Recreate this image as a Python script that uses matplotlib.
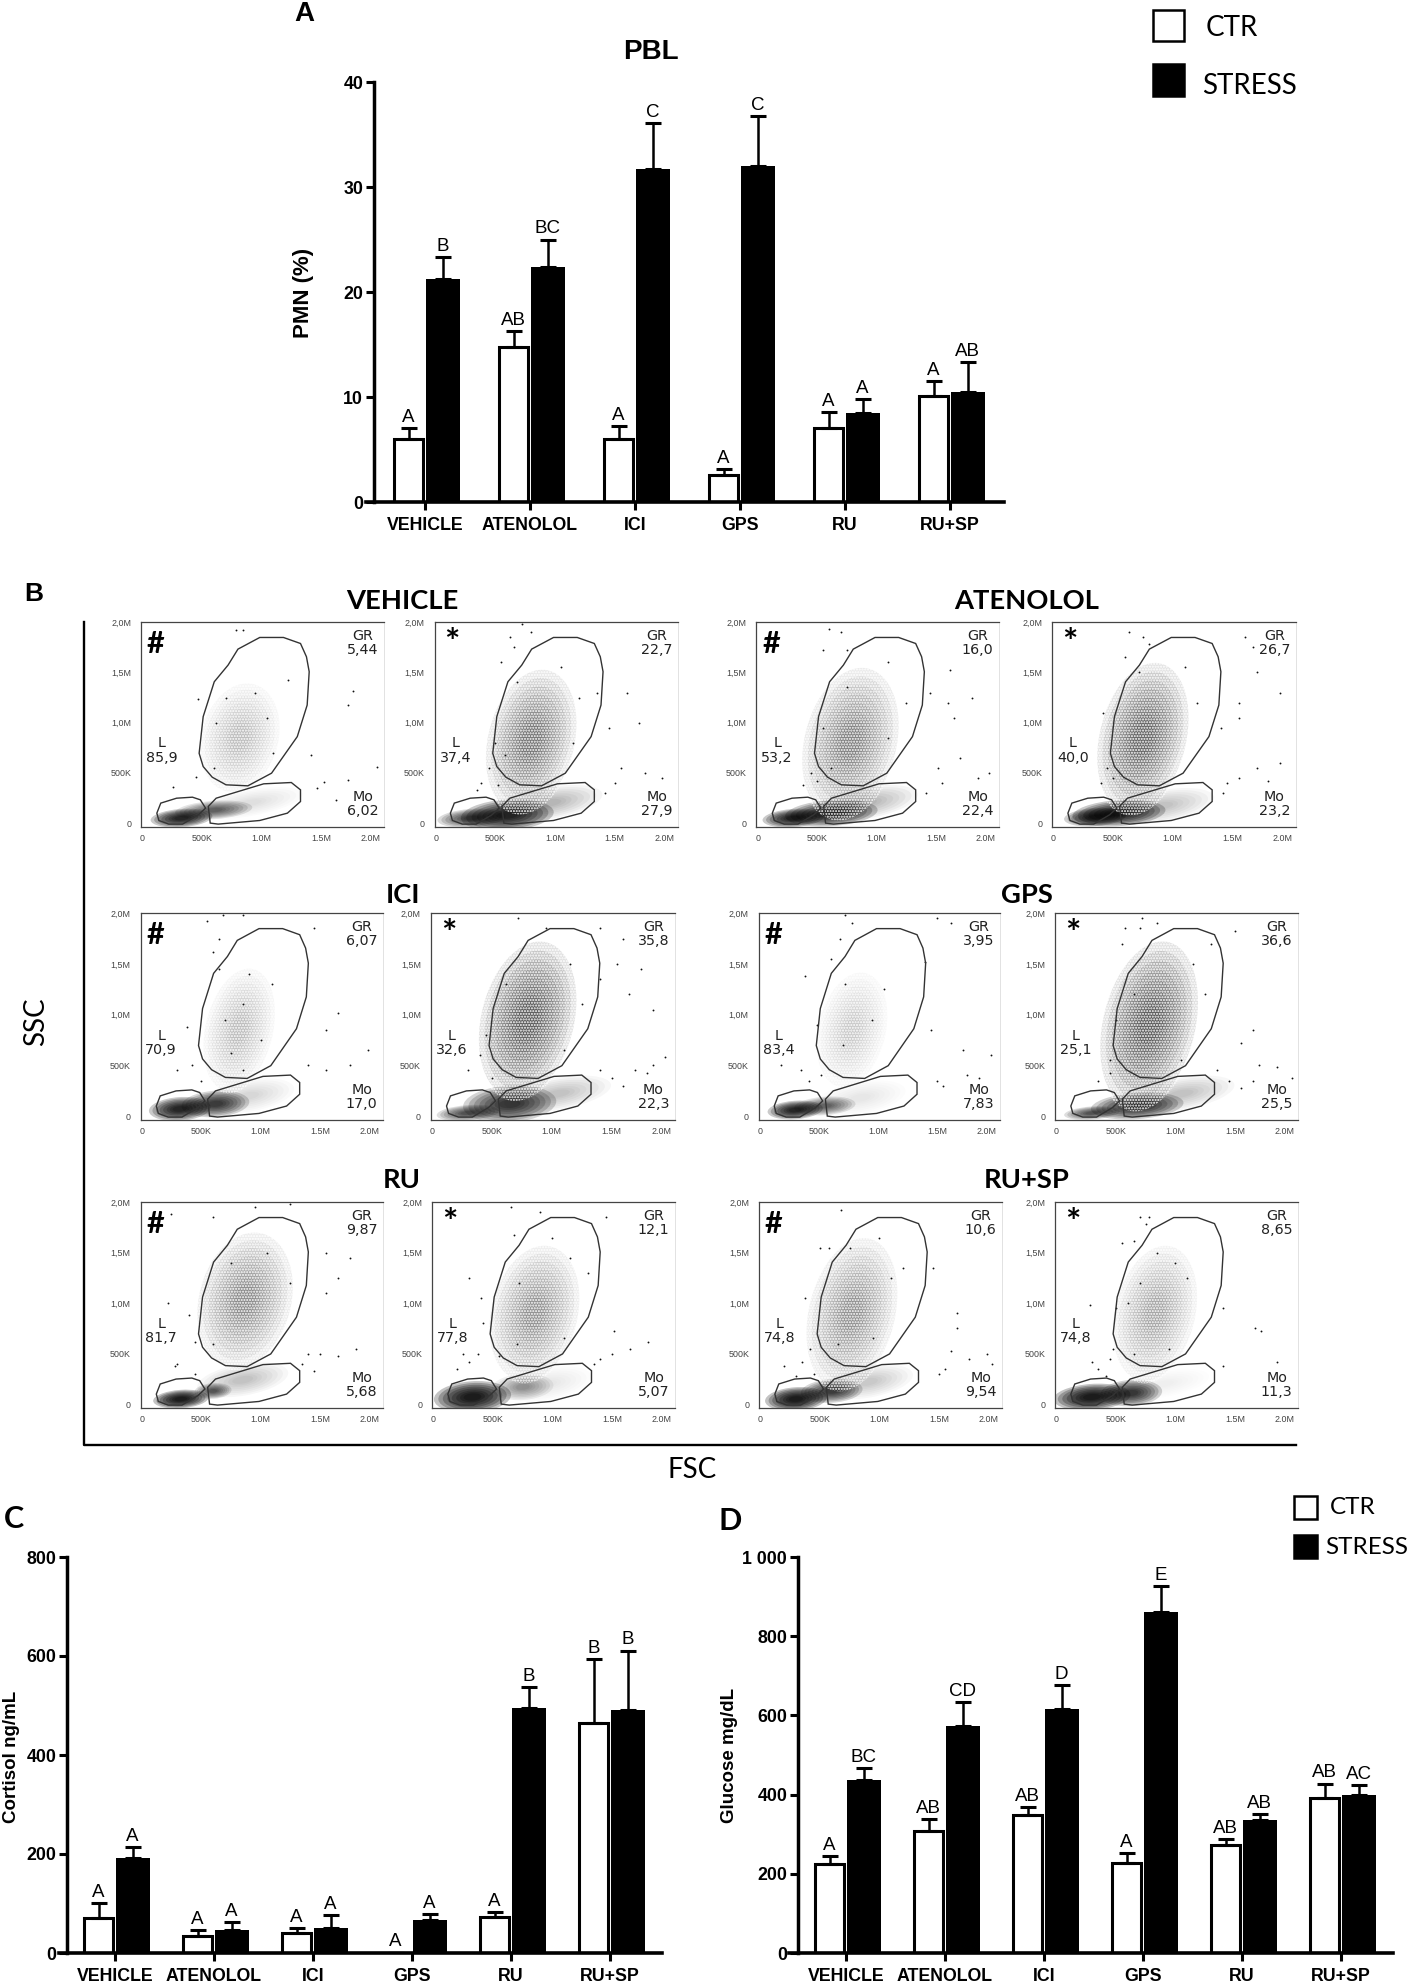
import matplotlib
matplotlib.use("Agg")
import matplotlib.pyplot as plt
from matplotlib.patches import Rectangle, Ellipse, Polygon
from matplotlib.lines import Line2D
from matplotlib.transforms import Affine2D

W, H = 1408, 1986
fig = plt.figure(figsize=(W / 100, H / 100), dpi=100, facecolor="white")
PX = Affine2D().scale(1 / W, -1 / H).translate(0, 1) + fig.transFigure
ARIAL = "Liberation Sans"
CAL = "Lato"

GROUPS = ["VEHICLE", "ATENOLOL", "ICI", "GPS", "RU", "RU+SP"]

# Panel A: PMN (%)
A_CTR = [6.0, 14.8, 5.96, 2.6, 7.05, 10.05]
A_CTR_TOP = [7.05, 16.3, 7.2, 3.1, 8.6, 11.5]
A_STR = [21.2, 22.4, 31.7, 32.0, 8.5, 10.5]
A_STR_TOP = [23.3, 25.0, 36.05, 36.8, 9.8, 13.3]
A_CTR_LET = ["A", "AB", "A", "A", "A", "A"]
A_STR_LET = ["B", "BC", "C", "C", "A", "AB"]

# Panel C: cortisol
C_CTR = [71.5, 34, 40, 1, 73.5, 465]
C_CTR_TOP = [101, 46, 50, 1, 82, 593]
C_STR = [191, 47, 51, 67, 494, 491]
C_STR_TOP = [214.5, 62, 77, 79.6, 537.6, 611]
C_CTR_LET = ["A", "A", "A", "A", "A", "B"]
C_STR_LET = ["A", "A", "A", "A", "B", "B"]

# Panel D: glucose
D_CTR = [226, 307, 348, 227, 273, 391]
D_CTR_TOP = [244.5, 338, 368.5, 253, 287.5, 428]
D_STR = [438, 573, 616, 860, 335.6, 399]
D_STR_TOP = [466, 634, 676, 927, 351, 423]
D_CTR_LET = ["A", "AB", "AB", "A", "AB", "AB"]
D_STR_LET = ["BC", "CD", "D", "E", "AB", "AC"]

# Panel B: gate percentages, row by row
GR_VALS = ["5,44", "22,7", "16,0", "26,7", "6,07", "35,8", "3,95", "36,6", "9,87", "12,1", "10,6", "8,65"]
L_VALS = ["85,9", "37,4", "53,2", "40,0", "70,9", "32,6", "83,4", "25,1", "81,7", "77,8", "74,8", "74,8"]
MO_VALS = ["6,02", "27,9", "22,4", "23,2", "17,0", "22,3", "7,83", "25,5", "5,68", "5,07", "9,54", "11,3"]

# Gates, FSC / SSC in millions
GR_GATE = [(.804, 1.732), (.987, 1.848), (1.186, 1.848), (1.329, 1.788), (1.379, 1.656), (1.402, 1.507),
           (1.385, 1.175), (1.302, .861), (1.086, .497), (.887, .371), (.704, .381), (.588, .457),
           (.512, .563), (.478, .695), (.512, 1.06), (.605, 1.407), (.721, 1.573)]
MO_GATE = [(.571, 0), (.555, .166), (.621, .248), (1.02, .391), (1.252, .404), (1.329, .331),
           (1.329, .215), (1.219, .099), (.987, .026), (.638, -.01)]
L_GATE = [(.123, .099), (.156, .199), (.289, .248), (.422, .258), (.488, .232), (.532, .149),
          (.472, .083), (.339, -.01), (.223, -.01), (.14, .026)]

# Density of each cloud, estimated by eye: centre x, centre y, half width, half height, darkness
GR_CLOUD = [(.82, .85, .25, .42, .28), (.80, .82, .28, .55, .7), (.78, .80, .30, .58, .6), (.75, .85, .28, .58, .8),
            (.82, .85, .22, .47, .28), (.80, .95, .30, .60, .9), (.78, .85, .22, .44, .22), (.78, .90, .30, .64, .9),
            (.87, 1.03, .30, .52, .55), (.85, .90, .28, .52, .5), (.77, .90, .28, .58, .5), (.83, .90, .26, .52, .38)]
L_CLOUD = [(.33, .05, .20, .07, 1.6), (.30, .05, .22, .07, 1.1), (.30, .05, .20, .07, 1.6), (.35, .06, .20, .07, 1.4),
           (.32, .07, .20, .09, 1.6), (.30, .03, .20, .06, 1.0), (.30, .06, .18, .07, 1.6), (.30, .03, .18, .05, 1.0),
           (.33, .05, .18, .07, 1.8), (.33, .07, .25, .12, 1.8), (.30, .05, .20, .09, 1.8), (.30, .07, .25, .10, 1.8)]
MO_CORE = [(.60, .13, .25, .07, .8), (.60, .08, .30, .12, 1.6), (.62, .10, .30, .10, 1.5), (.55, .10, .30, .10, 1.6),
           (.62, .12, .22, .10, 1.2), (.65, .12, .30, .14, 1.3), (.55, .10, .20, .07, .8), (.68, .10, .30, .10, 1.4),
           (.60, .13, .12, .06, .9), (.75, .17, .20, .10, .45), (.60, .13, .20, .09, 1.2), (.63, .11, .20, .10, 1.3)]
MO_WIDE = [(.90, .20, .35, .10, .12), (.95, .20, .35, .12, .3), (.90, .20, .35, .12, .3), (.90, .17, .35, .12, .25),
           (.90, .20, .30, .12, .15), (1.05, .22, .35, .12, .25), (.85, .18, .30, .12, .1), (1.05, .22, .35, .12, .25),
           (.85, .24, .30, .12, .25), (.95, .20, .30, .12, .1), (.90, .22, .30, .12, .2), (.90, .20, .30, .10, .07)]

# Stray events (FSC, SSC in millions)
S1 = [(.79, 1.92), (.85, 1.92), (1.73, 1.18), (1.77, 1.32), (1.22, 1.42), (1.42, .68), (1.53, .41), (1.47, .35), (1.73, .43),
      (1.97, .56), (1.63, .23), (.26, .36), (.47, 1.24), (.45, .46), (.70, 1.25), (.95, 1.30), (1.05, 1.05), (.60, .55), (1.1, .7), (.62, 1.0)]
S2 = [(.72, 1.98), (.8, 1.9), (.66, 1.75), (.55, 1.6), (.62, 1.85), (.5, .8), (.45, .55), (.38, .4), (.52, .38), (1.45, .95), (1.6, 1.3),
      (1.7, 1.0), (1.75, .5), (1.5, .4), (1.42, .3), (1.9, .45), (1.55, .55), (1.05, 1.55), (1.2, 1.25), (.68, 1.4), (1.15, .8), (.58, .68), (1.35, 1.3), (.35, .33)]
S3 = [(.6, 1.93), (.7, 1.9), (.55, 1.72), (.75, 1.72), (1.62, 1.52), (1.45, 1.3), (1.6, 1.2), (1.8, 1.25), (1.65, 1.05), (1.52, .55), (1.7, .65),
      (1.55, .4), (1.42, .3), (1.85, .45), (1.95, .5), (.45, .5), (.38, .38), (.5, .42), (1.1, 1.6), (.75, 1.35), (1.25, 1.2), (1.1, .85), (.62, .55), (.55, .95)]
S4 = [(.63, 1.9), (.75, 1.85), (.8, 1.78), (.6, 1.65), (1.6, 1.85), (1.67, 1.75), (1.7, 1.5), (1.55, 1.2), (1.55, 1.05), (1.4, .95), (1.9, 1.3),
      (1.45, .4), (1.55, .45), (1.7, .55), (1.9, .6), (1.8, .42), (1.42, .3), (.45, .55), (.4, .4), (.42, 1.1), (1.1, 1.55), (1.2, 1.2), (.72, 1.5), (.5, .45)]
S5 = [(.55, 1.92), (.68, 1.98), (.85, 1.98), (.65, 1.75), (.6, 1.62), (1.45, 1.85), (1.65, 1.02), (1.55, .85), (.38, .88), (.3, .45), (.42, .5),
      (.5, .35), (1.4, .5), (1.55, .45), (1.75, .5), (1.9, .65), (.85, 1.1), (.7, .95), (.9, 1.4), (1.1, 1.3), (.75, .62), (1.0, .75), (.85, .45), (.65, 1.45)]
S6 = [(.72, 1.95), (.95, 1.85), (1.4, 1.85), (1.6, 1.75), (1.55, 1.5), (1.4, 1.35), (1.65, 1.2), (1.85, 1.05), (1.75, 1.45), (.45, .8), (.4, .6),
      (.3, .45), (.5, .38), (1.4, .45), (1.5, .38), (1.6, .3), (1.7, .45), (1.85, .5), (1.95, .58), (1.8, .42), (1.15, 1.5), (1.25, 1.1), (.62, 1.3), (1.1, .65)]
S7 = [(.72, 1.98), (.78, 1.9), (.68, 1.75), (.6, 1.55), (1.5, 1.95), (1.62, 1.9), (1.4, 1.52), (.38, 1.38), (.48, .9), (1.45, .85), (1.72, .65), (1.95, .6),
      (1.5, .35), (1.55, .3), (1.75, .4), (1.85, .38), (.18, .5), (.35, .45), (.42, .35), (.52, .4), (.72, 1.3), (.95, .95), (.7, .7), (1.05, 1.25)]
S8 = [(.72, 1.95), (.85, 1.9), (.7, 1.85), (.55, 1.7), (.58, 1.85), (1.3, 1.7), (1.5, 1.82), (.5, .95), (.45, .55), (.35, .35), (.45, .42),
      (1.35, .45), (1.45, .35), (1.55, .28), (1.65, .35), (1.7, .5), (1.85, .48), (1.98, .38), (1.55, .72), (1.65, .85), (1.15, 1.5), (1.25, 1.2), (.65, 1.2), (1.05, .55)]
S9 = [(.95, 1.95), (1.25, 1.98), (.6, 1.85), (.25, 1.88), (.22, 1.0), (.4, .88), (.45, .62), (.3, .4), (.28, .38), (.45, .3), (1.55, 1.5), (1.75, 1.45),
      (1.65, 1.25), (1.55, 1.1), (1.4, .5), (1.5, .5), (1.65, .48), (1.8, .55), (1.45, .33), (1.35, .4), (1.05, 1.5), (.75, 1.4), (1.25, 1.2), (.6, .6)]
S10 = [(.65, 1.95), (.9, 1.9), (1.45, 1.85), (.68, 1.68), (.3, 1.25), (.4, 1.05), (.42, .8), (.38, .5), (.25, .5), (.2, .35), (.3, .42), (1.65, .55),
       (1.5, .5), (1.4, .45), (1.35, .4), (1.8, .62), (1.52, .72), (1.0, 1.65), (1.15, 1.45), (.72, 1.2), (1.3, 1.3), (.7, .6), (1.1, .65), (.55, .48)]
S11 = [(.68, 1.92), (.5, 1.55), (.58, 1.55), (1.45, 1.35), (1.65, .9), (1.65, .75), (1.6, .53), (1.75, .45), (1.9, .5), (1.95, .4), (1.5, .3), (1.55, .35),
       (.35, .42), (.2, .38), (.42, .55), (.3, .28), (.38, 1.05), (.45, .3), (.75, 1.55), (1.0, 1.65), (1.1, 1.25), (.65, .6), (.95, .65), (1.2, 1.35)]
S12 = [(.7, 1.85), (.78, 1.85), (.75, 1.78), (.55, 1.6), (.65, 1.62), (.28, .98), (.5, .95), (1.4, .95), (1.67, .75), (1.72, .72), (1.85, .42), (.45, .45),
       (.3, .42), (.35, .35), (.48, .55), (1.4, .38), (.42, .28), (.85, 1.5), (.7, 1.2), (1.1, 1.25), (.65, .5), (.95, .55), (1.0, 1.4), (.6, 1.0)]
STRAYS = [S1, S2, S3, S4, S5, S6, S7, S8, S9, S10, S11, S12]

FLOW_X_TICKS = [0, .5, 1, 1.5, 2]
FLOW_X_LABELS = ["0", "500K", "1.0M", "1.5M", "2.0M"]
FLOW_Y_LABELS = ["0", "500K", "1,0M", "1,5M", "2,0M"]
FLOW_RECTS = [(141, 622, 384, 827), (434.5, 622, 678, 827), (756.5, 622, 999, 827), (1052, 622, 1296, 827),
              (140.5, 913, 383, 1120), (430.6, 913, 675, 1120), (758.5, 913, 1000, 1120), (1055, 913, 1298, 1120),
              (140.5, 1202, 383, 1408), (432, 1202, 675, 1408), (759, 1202, 1002, 1408), (1055, 1202, 1298, 1408)]
FLOW_TITLES = [("VEHICLE", 402, 601), ("ATENOLOL", 1027, 601), ("ICI", 403, 895),
               ("GPS", 1027, 895), ("RU", 402, 1180), ("RU+SP", 1027, 1180)]


def ftext(x, y, s, **kw):
    kw.setdefault("ha", "center")
    kw.setdefault("va", "center")
    return fig.text(x, y, s, transform=PX, **kw)


def bar_panel(rect, tick0, step, ylim, yticks, ylabels, ctr, ctr_top, st, st_top, let_c, let_s):
    l, t, r, b = rect
    ax = fig.add_axes([l / W, 1 - b / H, (r - l) / W, (b - t) / H])
    ax.set_xlim((l - tick0) / step, (r - tick0) / step)
    ax.set_ylim(0, ylim)
    xs = list(range(len(GROUPS)))
    xc = [x - 16.5 / step for x in xs]
    xt = [x + 17.5 / step for x in xs]
    ax.bar(xc, ctr, width=29 / step, facecolor="white", edgecolor="black", linewidth=2.2, zorder=2)
    ax.bar(xt, st, width=34 / step, color="black", linewidth=0, zorder=2)
    for xp, v, top, lets in ((xc, ctr, ctr_top, let_c), (xt, st, st_top, let_s)):
        err = [[0] * len(v), [a - c for a, c in zip(top, v)]]
        ax.errorbar(xp, v, yerr=err, fmt="none", ecolor="black", elinewidth=1.8,
                    capsize=6, capthick=2.2, zorder=3)
        for x, y, s in zip(xp, top, lets):
            ax.annotate(s, (x, y), xytext=(0, 1.5), textcoords="offset points", ha="center",
                        va="bottom", fontsize=13.5, family=ARIAL)
    for s in ("top", "right"):
        ax.spines[s].set_visible(False)
    ax.spines["left"].set_position(("data", -0.485))
    ax.spines["left"].set_linewidth(2.5)
    ax.spines["bottom"].set_linewidth(2.6)
    ax.set_xticks(xs, GROUPS)
    ax.set_yticks(yticks, ylabels)
    ax.tick_params(axis="x", length=5.8, width=2.2, pad=5)
    ax.tick_params(axis="y", length=5.8, width=2.2, pad=2)
    for lab in ax.get_xticklabels() + ax.get_yticklabels():
        lab.set_family(ARIAL)
        lab.set_fontweight("bold")
        lab.set_fontsize(12.8)
    ax.patch.set_alpha(0)
    return ax


bar_panel((366, 82, 1004, 502), 425, 105, 40, [0, 10, 20, 30, 40], ["0", "10", "20", "30", "40"],
          A_CTR, A_CTR_TOP, A_STR, A_STR_TOP, A_CTR_LET, A_STR_LET)
bar_panel((59, 1557, 662, 1953), 115, 99, 800, [0, 200, 400, 600, 800], ["0", "200", "400", "600", "800"],
          C_CTR, C_CTR_TOP, C_STR, C_STR_TOP, C_CTR_LET, C_STR_LET)
bar_panel((789, 1557, 1393, 1953), 846, 99, 1000, [0, 200, 400, 600, 800, 1000], ["0", "200", "400", "600", "800", "1 000"],
          D_CTR, D_CTR_TOP, D_STR, D_STR_TOP, D_CTR_LET, D_STR_LET)

# Flow cytometry plots: shaded stand-ins for the dense clouds, plus stray events
RING_SIZES = [1.3, 1.15, 1.0, .85, .7, .55, .42, .3]
RING_ALPHA = .13


def cloud(ax, c, angle=0):
    cx, cy, hw, hh, dark = c
    for f in RING_SIZES:
        ax.add_patch(Ellipse((cx, cy), 2 * hw * f, 2 * hh * f, angle=angle, facecolor="black",
                             edgecolor="none", alpha=min(1, RING_ALPHA * dark), zorder=1))


for i, rc in enumerate(FLOW_RECTS):
    l, t, r, b = rc
    ax = fig.add_axes([l / W, 1 - b / H, (r - l) / W, (b - t) / H])
    ax.set_xlim(-.01, 2.03)
    ax.set_ylim(-.0388, 2.002)
    cloud(ax, GR_CLOUD[i], angle=-10)
    ax.add_patch(Ellipse(GR_CLOUD[i][:2], 2.7 * GR_CLOUD[i][2], 2.7 * GR_CLOUD[i][3], angle=-10,
                         fill=False, hatch="......", edgecolor="white", linewidth=0, zorder=1.5))
    cloud(ax, MO_WIDE[i], angle=12)
    cloud(ax, MO_CORE[i], angle=5)
    cloud(ax, L_CLOUD[i], angle=5)
    xs = [p[0] for p in STRAYS[i]]
    ys = [p[1] for p in STRAYS[i]]
    ax.scatter(xs, ys, s=1.8, color="#111111", linewidths=0, zorder=2)
    for g in (GR_GATE, MO_GATE, L_GATE):
        ax.add_patch(Polygon(g, closed=True, fill=False, edgecolor="#333333", linewidth=1.0, zorder=3))
    ax.set_xticks(FLOW_X_TICKS, FLOW_X_LABELS)
    ax.set_yticks(FLOW_X_TICKS, FLOW_Y_LABELS)
    ax.tick_params(length=0, labelsize=6.4, labelcolor="#444444")
    ax.tick_params(axis="y", pad=7)
    ax.tick_params(axis="x", pad=5)
    for lab in ax.get_xticklabels() + ax.get_yticklabels():
        lab.set_family(ARIAL)
    ax.get_xticklabels()[-1].set_ha("right")
    for s in ("top", "left", "bottom"):
        ax.spines[s].set_color("#444444")
        ax.spines[s].set_linewidth(.9)
    ax.spines["right"].set_color("#dddddd")
    ax.spines["right"].set_linewidth(.6)
    tk = dict(transform=ax.transAxes, ha="center", va="center", family="DejaVu Sans", color="#222222")
    ax.text(.912, .93, "GR", fontsize=10.3, **tk)
    ax.text(.912, .865, GR_VALS[i], fontsize=10.3, **tk)
    ax.text(.085, .408, "L", fontsize=10.3, **tk)
    ax.text(.085, .339, L_VALS[i], fontsize=10.3, **tk)
    ax.text(.912, .146, "Mo", fontsize=10.3, **tk)
    ax.text(.912, .076, MO_VALS[i], fontsize=10.3, **tk)
    if i % 2 == 0:
        ax.text(.06, .895, "#", transform=ax.transAxes, ha="center", va="center", family=CAL,
                fontweight="bold", fontsize=22)
    else:
        ax.text(.073, .895, "*", transform=ax.transAxes, ha="center", va="center", family=CAL,
                fontweight="bold", fontsize=26)

# Bottom-row FSC labels are cut off in the original figure
fig.add_artist(Rectangle((130, 1422), 1175, 10, transform=PX, facecolor="white", edgecolor="none", zorder=5))

for s, x, y in FLOW_TITLES:
    ftext(x, y, s, family=CAL, fontweight="bold", fontsize=19.7)

# Panel B frame
fig.add_artist(Line2D([84, 84, 1296], [622, 1445, 1445], transform=PX, color="black", linewidth=1.7))
ftext(36, 1022, "SSC", rotation=90, family=CAL, fontsize=20)
ftext(692, 1470, "FSC", family=CAL, fontsize=20)

# Panel letters, titles and y labels
ftext(304, 14, "A", family=ARIAL, fontweight="bold", fontsize=20)
ftext(34, 594, "B", family=ARIAL, fontweight="bold", fontsize=19)
ftext(14, 1519, "C", family=CAL, fontweight="bold", fontsize=22)
ftext(730, 1521, "D", family=CAL, fontweight="bold", fontsize=22)
ftext(651, 52, "PBL", family=ARIAL, fontweight="bold", fontsize=20)
ftext(303, 293, "PMN (%)", rotation=90, family=ARIAL, fontweight="bold", fontsize=16)
ftext(12, 1757, "Cortisol ng/mL", rotation=90, family=ARIAL, fontweight="bold", fontsize=13.5)
ftext(729, 1755, "Glucose mg/dL", rotation=90, family=ARIAL, fontweight="bold", fontsize=13.5)

# Legends
for x, y, w, h, fc in ((1153, 10, 31, 31, "white"), (1153, 64, 31, 32, "black"),
                       (1294, 1496, 23, 23, "white"), (1294, 1535, 23, 23, "black")):
    fig.add_artist(Rectangle((x, y), w, h, transform=PX, facecolor=fc, edgecolor="black", linewidth=1.8))
ftext(1232, 28, "CTR", family=CAL, fontsize=20)
ftext(1249, 86, "STRESS", family=CAL, fontsize=20)
ftext(1330, 1508, "CTR", ha="left", family=CAL, fontsize=17.5)
ftext(1325, 1547, "STRESS", ha="left", family=CAL, fontsize=17.5)

fig.savefig("out.png", dpi=100)
